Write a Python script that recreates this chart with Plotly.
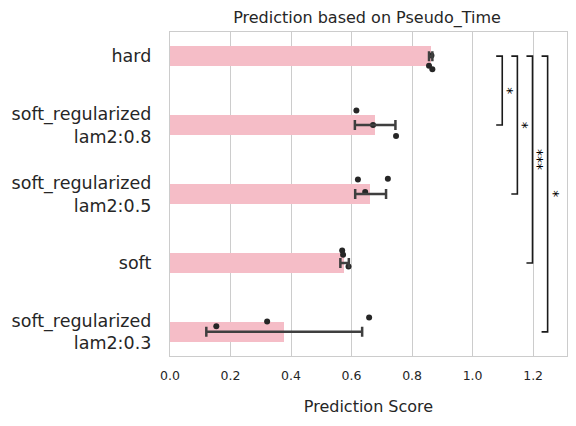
import plotly.graph_objects as go

# ---- data ----
categories = ["hard", "soft_regularized<br>lam2:0.8", "soft_regularized<br>lam2:0.5",
              "soft", "soft_regularized<br>lam2:0.3"]
means = [0.862, 0.677, 0.660, 0.575, 0.377]
ci_low = [0.856, 0.611, 0.612, 0.563, 0.120]
ci_high = [0.867, 0.745, 0.714, 0.591, 0.635]
points = [
    [0.864, 0.856, 0.867],
    [0.616, 0.671, 0.747],
    [0.621, 0.720, 0.645],
    [0.569, 0.572, 0.590],
    [0.153, 0.321, 0.658],
]
jitter = [
    [-0.01, 0.14, 0.19],
    [-0.21, 0.00, 0.16],
    [-0.21, -0.22, -0.03],
    [-0.18, -0.12, 0.05],
    [-0.08, -0.15, -0.21],
]
pairs = [(0, 1), (0, 2), (0, 3), (0, 4)]
pair_labels = ["*", "*", "***", "*"]
xticks = [0.0, 0.2, 0.4, 0.6, 0.8, 1.0, 1.2]

# ---- style ----
BAR_COLOR = "#F5BDC7"
TEXT = "#262626"
GRID = "#cccccc"
BR_BASE = 1.098
BR_STEP = 0.050
BR_TICK = 0.020

pos = list(range(len(categories)))
fig = go.Figure()

fig.add_trace(go.Bar(
    x=means, y=pos, orientation="h", width=0.28,
    marker=dict(color=BAR_COLOR, line=dict(width=0)),
    showlegend=False, hoverinfo="skip"))

px_, py_ = [], []
for i, (vals, jit) in enumerate(zip(points, jitter)):
    for v, j in zip(vals, jit):
        px_.append(v)
        py_.append(i + j)
fig.add_trace(go.Scatter(
    x=px_, y=py_, mode="markers",
    marker=dict(color=TEXT, size=6, line=dict(width=0)),
    showlegend=False))

fig.add_trace(go.Scatter(
    x=means, y=pos, mode="markers",
    marker=dict(size=1, color="rgba(0,0,0,0)"),
    error_x=dict(type="data", symmetric=False,
                 array=[h - m for h, m in zip(ci_high, means)],
                 arrayminus=[m - l for m, l in zip(means, ci_low)],
                 color="#3f3f3f", thickness=2.5, width=5),
    showlegend=False))

for k, ((a, b), lab) in enumerate(zip(pairs, pair_labels)):
    xl = BR_BASE + BR_STEP * k
    fig.add_trace(go.Scatter(
        x=[xl - BR_TICK, xl, xl, xl - BR_TICK], y=[a, a, b, b],
        mode="lines", line=dict(color="#1a1a1a", width=1.6),
        showlegend=False, hoverinfo="skip"))
    fig.add_annotation(x=xl, y=(a + b) / 2, text=lab, showarrow=False,
                       textangle=90, xshift=6, xanchor="center", yanchor="middle",
                       font=dict(size=14, color="#000000", family="DejaVu Sans"))

fig.update_layout(
    width=576, height=426,
    margin=dict(l=170, r=9, t=32, b=70, autoexpand=False),
    paper_bgcolor="white", plot_bgcolor="white",
    font=dict(family="DejaVu Sans", color=TEXT),
    title=dict(text="Prediction based on Pseudo_Time", x=0.6372, xanchor="center",
               y=0.96, yanchor="middle", font=dict(size=16, color=TEXT)),
    bargap=0,
)
fig.update_xaxes(
    range=[0, 1.312], tickvals=xticks, ticktext=[f"{t:.1f}" for t in xticks],
    showgrid=True, gridcolor=GRID, gridwidth=1.2, zeroline=False,
    showline=True, linecolor=GRID, linewidth=1.3, mirror=True, automargin=False,
    tickfont=dict(size=12.5, color=TEXT), ticklabelstandoff=8,
    title=dict(text="Prediction Score", font=dict(size=16, color=TEXT), standoff=18),
)
fig.update_yaxes(
    range=[4.35, -0.35], tickvals=pos, ticktext=categories,
    showgrid=False, zeroline=False, automargin=False,
    showline=True, linecolor=GRID, linewidth=1.3, mirror=True,
    tickfont=dict(size=17.5, color=TEXT), ticklabelstandoff=14,
)

fig.write_html("out.html", config={"displayModeBar": False},
               post_script="document.body.style.margin='0';")
